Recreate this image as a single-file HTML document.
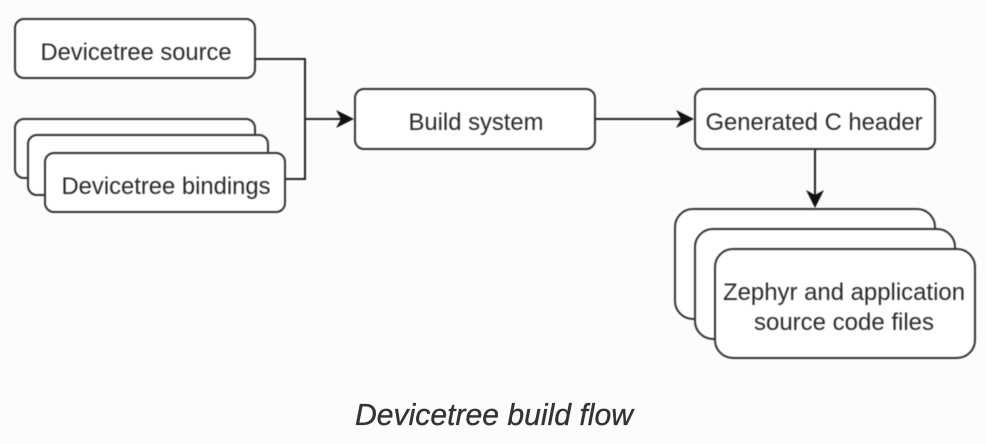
<!DOCTYPE html>
<html><head><meta charset="utf-8"><style>
html,body{margin:0;padding:0;background:#fcfcfc;width:986px;height:444px;overflow:hidden}
svg{display:block}
rect{fill:#fff;stroke:#333;stroke-width:2}
.l{fill:none;stroke:#222;stroke-width:2}
text{font-family:"Liberation Sans",sans-serif;font-size:23.7px;fill:#2a2a2a;text-anchor:middle}
</style></head><body>
<svg width="986" height="444" viewBox="0 0 986 444" xmlns="http://www.w3.org/2000/svg">
<g style="filter:blur(0.5px)">
<path class="l" d="M255 59H305V179H285M305 119H345"/>
<path d="M354 119L336 110L341 119L336 128Z" fill="#111"/>
<path class="l" d="M595 119H685"/>
<path d="M694 119L676 110L681 119L676 128Z" fill="#111"/>
<path class="l" d="M815 149V199"/>
<path d="M815 208L806 190L815 195L824 190Z" fill="#111"/>
<rect x="15" y="19" width="240" height="59" rx="9"/>
<rect x="15" y="119" width="240" height="59" rx="9"/>
<rect x="28" y="135" width="240" height="60" rx="9"/>
<rect x="45" y="153" width="240" height="59" rx="9"/>
<rect x="355" y="89" width="240" height="60" rx="9"/>
<rect x="695" y="89" width="240" height="60" rx="9"/>
<rect x="675" y="209" width="260" height="110" rx="18"/>
<rect x="695" y="229" width="260" height="110" rx="18"/>
<rect x="715" y="249" width="260" height="109" rx="18"/>
<text x="136" y="60" textLength="191" lengthAdjust="spacingAndGlyphs">Devicetree source</text>
<text x="166" y="194" textLength="209" lengthAdjust="spacingAndGlyphs">Devicetree bindings</text>
<text x="476" y="130" textLength="135" lengthAdjust="spacingAndGlyphs">Build system</text>
<text x="814" y="130" textLength="217" lengthAdjust="spacingAndGlyphs">Generated C header</text>
<text x="844" y="300" textLength="242" lengthAdjust="spacingAndGlyphs">Zephyr and application</text>
<text x="844" y="330" textLength="180" lengthAdjust="spacingAndGlyphs">source code files</text>
</g>
<text x="494" y="425" textLength="278" lengthAdjust="spacingAndGlyphs" style="font-size:31px;font-style:italic;fill:#333;stroke:#333;stroke-width:0.35">Devicetree build flow</text>
</svg>
</body></html>
